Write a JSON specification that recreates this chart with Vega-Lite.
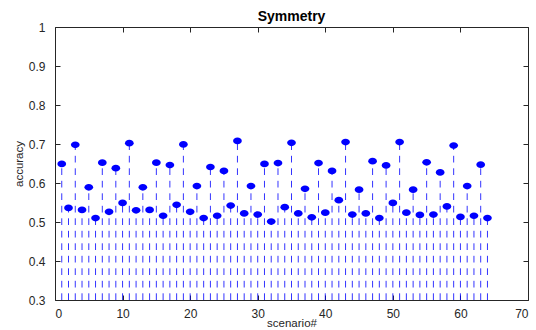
{
  "$schema": "https://vega.github.io/schema/vega-lite/v6.json",
  "width": 473,
  "height": 273,
  "autosize": "none",
  "padding": {"left": 55, "top": 27, "right": 8, "bottom": 30},
  "background": "white",
  "config": {
    "view": {"stroke": "#262626", "strokeWidth": 1},
    "font": "Liberation Sans",
    "axis": {"grid": false, "labelFont": "Liberation Sans", "titleFont": "Liberation Sans", "labelColor": "#262626", "titleColor": "#262626", "tickColor": "#262626", "domainColor": "#262626", "labelFontSize": 12, "titleFontSize": 11.5, "titleFontWeight": "normal", "tickWidth": 1}
  },
  "title": {"text": "Symmetry", "fontSize": 14, "fontWeight": "bold", "font": "Liberation Sans", "color": "#000000", "offset": -3},
  "data": {"values": [
    {"x": 1, "acc": 0.649}, {"x": 2, "acc": 0.536}, {"x": 3, "acc": 0.698}, {"x": 4, "acc": 0.531},
    {"x": 5, "acc": 0.589}, {"x": 6, "acc": 0.510}, {"x": 7, "acc": 0.652}, {"x": 8, "acc": 0.526},
    {"x": 9, "acc": 0.638}, {"x": 10, "acc": 0.549}, {"x": 11, "acc": 0.702}, {"x": 12, "acc": 0.530},
    {"x": 13, "acc": 0.589}, {"x": 14, "acc": 0.531}, {"x": 15, "acc": 0.652}, {"x": 16, "acc": 0.516},
    {"x": 17, "acc": 0.646}, {"x": 18, "acc": 0.544}, {"x": 19, "acc": 0.699}, {"x": 20, "acc": 0.526},
    {"x": 21, "acc": 0.592}, {"x": 22, "acc": 0.510}, {"x": 23, "acc": 0.641}, {"x": 24, "acc": 0.516},
    {"x": 25, "acc": 0.631}, {"x": 26, "acc": 0.542}, {"x": 27, "acc": 0.708}, {"x": 28, "acc": 0.522},
    {"x": 29, "acc": 0.592}, {"x": 30, "acc": 0.519}, {"x": 31, "acc": 0.649}, {"x": 32, "acc": 0.501},
    {"x": 33, "acc": 0.651}, {"x": 34, "acc": 0.538}, {"x": 35, "acc": 0.703}, {"x": 36, "acc": 0.522},
    {"x": 37, "acc": 0.585}, {"x": 38, "acc": 0.512}, {"x": 39, "acc": 0.651}, {"x": 40, "acc": 0.524},
    {"x": 41, "acc": 0.631}, {"x": 42, "acc": 0.556}, {"x": 43, "acc": 0.705}, {"x": 44, "acc": 0.519},
    {"x": 45, "acc": 0.583}, {"x": 46, "acc": 0.522}, {"x": 47, "acc": 0.656}, {"x": 48, "acc": 0.510},
    {"x": 49, "acc": 0.645}, {"x": 50, "acc": 0.549}, {"x": 51, "acc": 0.705}, {"x": 52, "acc": 0.524},
    {"x": 53, "acc": 0.583}, {"x": 54, "acc": 0.518}, {"x": 55, "acc": 0.653}, {"x": 56, "acc": 0.519},
    {"x": 57, "acc": 0.627}, {"x": 58, "acc": 0.540}, {"x": 59, "acc": 0.696}, {"x": 60, "acc": 0.513},
    {"x": 61, "acc": 0.592}, {"x": 62, "acc": 0.516}, {"x": 63, "acc": 0.647}, {"x": 64, "acc": 0.510}
  ]},
  "layer": [
    {
      "mark": {"type": "rule", "color": "#0000ff", "strokeDash": [6.7, 5.8], "strokeDashOffset": {"expr": "6.7 - (scale('y', 0.3) - scale('y', datum.acc))"}, "strokeWidth": 1, "opacity": 0.8, "clip": true},
      "encoding": {
        "x": {"field": "x", "type": "quantitative", "scale": {"domain": [0, 70], "nice": false, "zero": false},
          "axis": {"orient": "bottom", "values": [0, 10, 20, 30, 40, 50, 60, 70], "title": "scenario#", "tickSize": -5, "labelPadding": 13, "titlePadding": -1.5, "domain": false}},
        "y": {"field": "acc", "type": "quantitative", "scale": {"domain": [0.3, 1], "nice": false, "zero": false},
          "axis": {"orient": "left", "values": [0.3, 0.4, 0.5, 0.6, 0.7, 0.8, 0.9, 1], "format": "~g", "title": "accuracy", "tickSize": -5, "labelPadding": 15, "titlePadding": 4, "domain": false}},
        "y2": {"datum": 0}
      }
    },
    {
      "mark": {"type": "point", "filled": true, "color": "#0000ff", "opacity": 1, "size": 76, "shape": "M-1,0C-1,-0.42 -0.55,-0.77 0,-0.77C0.55,-0.77 1,-0.42 1,0C1,0.42 0.55,0.77 0,0.77C-0.55,0.77 -1,0.42 -1,0Z"},
      "encoding": {
        "x": {"field": "x", "type": "quantitative",
          "axis": {"orient": "top", "values": [0, 10, 20, 30, 40, 50, 60, 70], "labels": false, "title": null, "tickSize": -5, "domain": false}},
        "y": {"field": "acc", "type": "quantitative",
          "axis": {"orient": "right", "values": [0.3, 0.4, 0.5, 0.6, 0.7, 0.8, 0.9, 1], "labels": false, "title": null, "tickSize": -5, "domain": false}}
      }
    }
  ],
  "resolve": {"axis": {"x": "independent", "y": "independent"}}
}
